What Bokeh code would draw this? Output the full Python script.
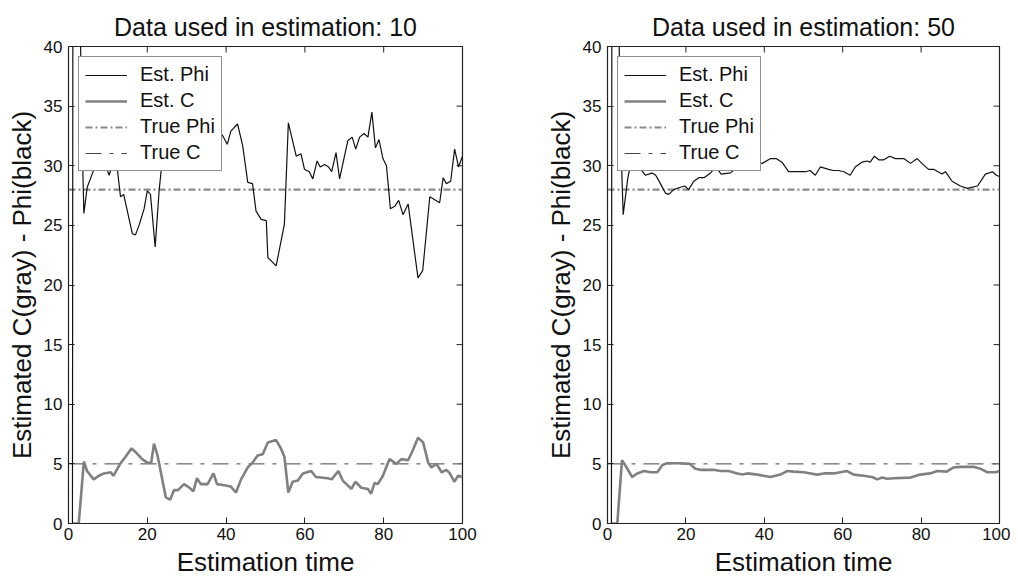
from bokeh.plotting import figure
from bokeh.models import Range1d, Legend, LegendItem, FixedTicker
from bokeh.layouts import row
from bokeh.embed import file_html
from bokeh.resources import INLINE

x_ticks = [0, 20, 40, 60, 80, 100]
y_ticks = [0, 5, 10, 15, 20, 25, 30, 35, 40]
true_t = [0, 100]
true_phi = [28, 28]
true_c = [5, 5]

# Left panel: data used in estimation = 10
phi10_t = [1, 1.2, 3.4, 3.9, 4.75, 6, 7.3, 8.6, 9.8, 10.3, 11.1, 12.4, 13.2, 14, 16.2, 17, 17.9, 19.2, 20, 20.8,
           22, 23, 23.8, 25, 26.5, 28, 29.5, 31, 32.7, 34, 35.3, 36.4, 37.5, 39, 40.3, 41.2, 42.9, 44.2, 45.5, 46.7,
           47.6, 48.9, 50.2, 50.6, 52.7, 54.8, 55.8, 57.8, 59, 59.9, 61.1, 62, 63.1, 63.9, 65, 66, 66.8, 67.9, 68.8, 70.9,
           72, 72.9, 73.9, 75, 76, 77, 77.9, 78.8, 79.8, 80.7, 81.7, 82.8, 83.8, 84.9, 86.2, 88.7, 89.9, 91.7, 94.2, 95.1,
           95.9, 97, 98, 99, 100]
phi10_v = [0, 80, 33, 26.0, 28.2, 29.3, 30.4, 29.7, 29.7, 29.2, 30.0, 29.7, 27.4, 27.6, 24.3, 24.2, 25.0, 26.4, 27.9, 27.6,
           23.2, 27.9, 30.5, 32, 32.8, 31.6, 33.2, 31.8, 30.3, 32, 31.2, 29.7, 31.4, 32.6, 31.8, 32.9, 33.5, 31.7, 28.6, 28.5,
           26.2, 25.5, 25.4, 22.3, 21.6, 25.1, 33.6, 30.8, 31.0, 29.7, 29.5, 28.9, 30.4, 29.9, 30.1, 29.9, 29.5, 31.1, 28.9, 32.1,
           32.4, 31.4, 32.4, 32.7, 32.4, 34.5, 31.5, 32.2, 30.6, 30.0, 26.4, 26.6, 27.1, 25.9, 26.8, 20.6, 21.2, 27.4, 26.9, 29.0,
           28.5, 28.7, 31.4, 29.9, 30.8]
c10_t = [1, 2.6, 3.9, 4.7, 6.4, 7.7, 9, 10.7, 11.4, 13.1, 14.5, 16, 17, 18.7, 20, 21, 21.7, 22.6, 24.7, 25.8,
         26.8, 27.8, 29.3, 30.3, 31.7, 32.6, 33.6, 35.3, 36.8, 37.7, 39.5, 41.2, 42.5, 43.8, 45.5, 46.7, 48, 49.3, 50.6, 52.7,
         53.9, 54.8, 55.8, 56.9, 58.2, 59.5, 61.6, 62.8, 65.8, 66.8, 67.5, 68.5, 69.6, 71.8, 72.8, 74.3, 76, 76.8, 77.7, 78.5,
         79.8, 81.1, 81.5, 83.2, 84.5, 86.2, 87.2, 88.7, 90, 91.3, 92.1, 93.4, 94.7, 95.9, 96.8, 97.9, 98.9, 100]
c10_v = [0, 0, 5.2, 4.4, 3.7, 4.0, 4.2, 4.3, 4.0, 5.0, 5.6, 6.3, 6.0, 5.4, 5.1, 5.1, 6.7, 5.7, 2.2, 2.0,
         2.8, 2.8, 3.3, 3.1, 2.7, 3.8, 3.3, 3.3, 4.2, 3.3, 3.2, 3.1, 2.6, 3.7, 4.7, 5.1, 5.7, 5.8, 6.8, 7.0,
         6.3, 5.6, 2.6, 3.5, 3.6, 4.2, 4.4, 3.9, 3.8, 3.7, 4.0, 4.4, 3.6, 2.9, 3.5, 3.0, 2.9, 2.5, 3.4, 3.3,
         4.0, 5.1, 5.4, 5.0, 5.4, 5.3, 6.0, 7.2, 6.8, 5.1, 4.7, 5.0, 4.3, 4.5, 4.2, 3.5, 4.0, 3.9]

# Right panel: data used in estimation = 50
phi50_t = [1, 1.2, 3.3, 4, 5.2, 6.3, 7.6, 8.5, 9.7, 11.4, 12.3, 13.5, 14.8, 15.6, 16.9, 18.6, 19.7, 20.7, 22, 23.3,
           24.6, 26.3, 27.6, 29, 31.4, 33.1, 34.5, 36.9, 38.2, 39.5, 41.6, 43, 44.5, 46.2, 48.4, 50.5, 51.7, 53, 54.3, 56.4,
           57.6, 58.9, 60.3, 61.9, 63.2, 64.9, 66.2, 67, 68.1, 69.2, 70.5, 72, 73.5, 75.6, 77.3, 79, 80.2, 81.9, 83.2, 85.3,
           86.2, 87.9, 90, 91.8, 94.4, 96.4, 98.2, 99.2, 100]
phi50_v = [0, 80, 33, 25.9, 29.0, 30.7, 29.9, 29.7, 29.2, 29.4, 29.2, 28.5, 27.7, 27.6, 28.0, 28.2, 28.3, 28.0, 28.7, 29.0,
           29.0, 29.4, 29.9, 29.3, 29.4, 29.9, 29.9, 29.6, 30.3, 30.2, 30.6, 30.6, 30.3, 29.5, 29.5, 29.5, 29.6, 29.2, 29.9, 29.7,
           29.6, 29.6, 29.5, 29.2, 29.9, 30.3, 30.4, 30.3, 30.8, 30.5, 30.5, 30.8, 30.6, 30.6, 30.2, 30.6, 30.2, 29.7, 29.7, 29.3,
           29.5, 28.7, 28.3, 28.1, 28.3, 29.3, 29.5, 29.2, 29.1]
c50_t = [1, 2.5, 3.7, 4.5, 6.3, 7.6, 9.3, 11, 12.7, 14, 15.2, 18.6, 21, 22.4, 23.7, 27.1, 28.8, 30.9, 33.1, 34.4,
         35.7, 38.2, 39.8, 41.6, 44.1, 45.8, 47.5, 50.1, 51.8, 53.5, 55.2, 57.7, 61.1, 62.8, 65.3, 67.5, 68.8, 70.1, 71.3, 73,
         77.3, 79.8, 82.3, 84.1, 86.5, 88.3, 90, 93.4, 95.1, 96.9, 99, 100]
c50_v = [0, 0, 5.3, 4.9, 3.9, 4.2, 4.4, 4.3, 4.3, 4.9, 5.05, 5.05, 5.0, 4.6, 4.5, 4.5, 4.4, 4.4, 4.2, 4.1,
         4.2, 4.1, 4.0, 3.9, 4.1, 4.4, 4.35, 4.3, 4.2, 4.1, 4.2, 4.2, 4.4, 4.1, 4.0, 3.9, 3.7, 3.85, 3.75, 3.8,
         3.85, 4.1, 4.2, 4.4, 4.35, 4.7, 4.75, 4.75, 4.6, 4.3, 4.3, 4.4]

assert len(phi10_t) == len(phi10_v) and len(c10_t) == len(c10_v)
assert len(phi50_t) == len(phi50_v) and len(c50_t) == len(c50_v)

FONT = "Liberation Sans"
X_MIN, X_MAX, Y_MIN, Y_MAX = 0, 100, 0, 40


def make_fig(title, pt, pv, ct, cv, width, left, right):
    p = figure(width=width, height=582, x_range=Range1d(X_MIN, X_MAX), y_range=Range1d(Y_MIN, Y_MAX),
               output_backend="svg", toolbar_location=None,
               min_border_left=left, min_border_right=right, min_border_top=46, min_border_bottom=59)
    p.title.text = title
    p.title.align = "center"
    p.title.vertical_align = "middle"
    p.title.text_font = FONT
    p.title.text_font_size = "25px"
    p.title.text_font_style = "normal"
    p.title.text_color = "#111111"
    p.xgrid.visible = False
    p.ygrid.visible = False
    p.outline_line_color = "#222222"
    p.outline_line_width = 1.2
    p.background_fill_color = "white"

    for ax, ticks in ((p.xaxis[0], x_ticks), (p.yaxis[0], y_ticks)):
        ax.ticker = FixedTicker(ticks=ticks)
        ax.major_tick_in = 6
        ax.major_tick_out = 0
        ax.minor_tick_line_color = None
        ax.major_label_text_font = FONT
        ax.major_label_text_font_size = "17px"
        ax.major_label_text_color = "#111111"
        ax.axis_line_color = "#222222"
        ax.major_tick_line_color = "#222222"
        ax.axis_label_text_font = FONT
        ax.axis_label_text_font_style = "normal"
        ax.axis_label_text_color = "#111111"
        ax.axis_label_text_font_size = "26px"
    p.xaxis[0].axis_label = "Estimation time"
    p.xaxis[0].major_label_standoff = 4
    p.xaxis[0].axis_label_standoff = 4
    p.yaxis[0].axis_label = "Estimated C(gray) - Phi(black)"
    p.yaxis[0].major_label_standoff = 6
    p.yaxis[0].axis_label_standoff = 4

    # inward tick marks on the top and right frame edges (6 screen px long)
    p.ray(x=x_ticks, y=[Y_MAX] * len(x_ticks), length=6, length_units="screen",
          angle=-90, angle_units="deg", line_color="#222222", line_width=1)
    p.ray(x=[X_MAX] * len(y_ticks), y=y_ticks, length=6, length_units="screen",
          angle=180, angle_units="deg", line_color="#222222", line_width=1)

    r_tphi = p.line(true_t, true_phi, line_color="#8a8a8a", line_width=2.2, line_dash="7 3 2 3")
    r_tc = p.line(true_t, true_c, line_color="#444444", line_width=1, line_dash="16 8 4 8")
    r_c = p.line(ct, cv, line_color="#808080", line_width=2.6)
    r_phi = p.line(pt, pv, line_color="#111111", line_width=1.2)

    legend = Legend(items=[LegendItem(label="Est. Phi", renderers=[r_phi]),
                           LegendItem(label="Est. C", renderers=[r_c]),
                           LegendItem(label="True Phi", renderers=[r_tphi]),
                           LegendItem(label="True C", renderers=[r_tc])],
                    location="top_left", margin=10, padding=6, spacing=3,
                    label_height=20, glyph_height=20, glyph_width=42, label_standoff=13,
                    label_text_font=FONT, label_text_font_size="20px", label_text_color="#111111",
                    border_line_color="#222222", border_line_width=1,
                    background_fill_color="white", background_fill_alpha=1)
    p.add_layout(legend, "center")
    return p


p1 = make_fig("Data used in estimation: 10", phi10_t, phi10_v, c10_t, c10_v, 518, 68, 56)
p2 = make_fig("Data used in estimation: 50", phi50_t, phi50_v, c50_t, c50_v, 492, 89, 11)

layout = row(p1, p2)
open("out.html", "w").write(file_html(layout, INLINE))
